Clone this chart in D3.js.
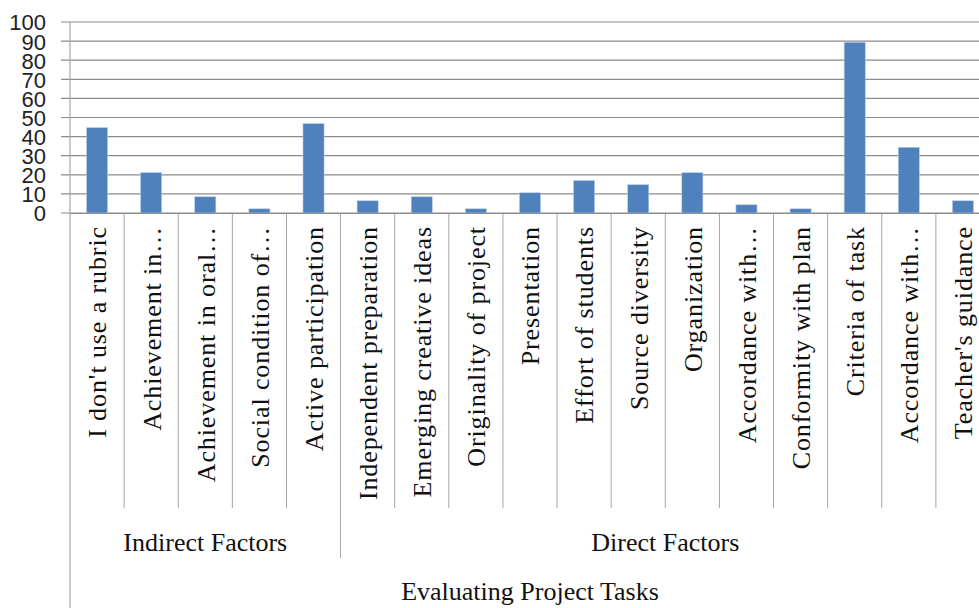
<!DOCTYPE html>
<html>
<head>
<meta charset="utf-8">
<script src="https://cdn.jsdelivr.net/npm/d3@7"></script>
<style>
  body { margin: 0; background: #fff; }
  svg { display: block; }
</style>
</head>
<body>
<svg id="svg"></svg>
<script>
// categories, values and groups
var categories = ["I don't use a rubric", "Achievement in…", "Achievement in oral…", "Social condition of…",
    "Active participation", "Independent preparation", "Emerging creative ideas", "Originality of project",
    "Presentation", "Effort of students", "Source diversity", "Organization", "Accordance with…",
    "Conformity with plan", "Criteria of task", "Accordance with…", "Teacher's guidance"];
var values = [44.7, 21.1, 8.5, 2.2, 46.8, 6.4, 8.5, 2.2, 10.6, 17, 14.8, 21.1, 4.3, 2.2, 89.4, 34.4, 6.4];
var groups = [{name: "Indirect Factors", from: 0, to: 5}, {name: "Direct Factors", from: 5, to: 17}];
var yTicks = [0, 10, 20, 30, 40, 50, 60, 70, 80, 90, 100];
var axisTitle = "Evaluating Project Tasks";

var svgWidth = 979, svgHeight = 608;
var margin = { top: 22, left: 70 },
    width = 920, height = 191;

var svg = d3.select('#svg').attr("width", svgWidth).attr("height", svgHeight);
var g = svg.append("g").attr("transform", "translate(" + margin.left + "," + margin.top + ")");

// the x axis keeps running past the right edge of the picture
var x = d3.scaleBand().domain(d3.range(categories.length)).range([0, width])
    .paddingInner(0.61).paddingOuter(0.305);
var y = d3.scaleLinear().domain([0, 100]).range([height, 0]);

var gridColor = "#8c8c8c";
var sepColor = "#a6a6a6";

// gridlines
g.append("g").selectAll("line").data(yTicks).enter().append("line")
    .attr("x1", -9).attr("x2", width)
    .attr("y1", d => y(d)).attr("y2", d => y(d))
    .attr("stroke", gridColor).attr("stroke-width", 1.2);

// y axis labels
var yAxis = g.append("g").call(d3.axisLeft(y).tickValues(yTicks).tickSize(0).tickPadding(24));
yAxis.select(".domain").remove();
yAxis.selectAll("text").attr("font-family", "'Liberation Sans', Arial, sans-serif")
    .attr("font-size", 22).attr("fill", "#222").attr("dy", "0.36em");

// bars
g.selectAll(".bar").data(values).enter().append("rect")
    .attr("class", "bar")
    .attr("x", (d, i) => x(i))
    .attr("width", x.bandwidth())
    .attr("y", d => y(d))
    .attr("height", d => height - y(d))
    .attr("fill", "#4f81bd")
    .attr("stroke", "#b9cde5").attr("stroke-width", 0.6);

// category separators
var step = x.step();
g.append("g").selectAll("line").data(d3.range(1, categories.length)).enter().append("line")
    .attr("x1", i => i * step).attr("x2", i => i * step)
    .attr("y1", height).attr("y2", d => {
        var isGroupEdge = groups.some(gr => gr.from == d);
        return isGroupEdge ? height + 345 : height + 295;
    })
    .attr("stroke", sepColor).attr("stroke-width", 1);

// left axis line
g.append("line").attr("x1", 0).attr("x2", 0).attr("y1", 0).attr("y2", svgHeight)
    .attr("stroke", sepColor).attr("stroke-width", 1.2);

// category labels
var xAxis = g.append("g").attr("transform", "translate(0," + height + ")")
    .call(d3.axisBottom(x).tickSize(0).tickFormat(i => categories[i]));
xAxis.select(".domain").attr("stroke", gridColor).attr("stroke-width", 1.2);
xAxis.selectAll("text")
    .attr("font-family", "'Liberation Serif', 'Times New Roman', serif")
    .attr("font-size", 26).attr("letter-spacing", "0.9px").attr("fill", "#111")
    .attr("transform", "rotate(-90)")
    .attr("text-anchor", "end")
    .attr("x", -13).attr("y", 0).attr("dy", "0.36em");

// group labels
g.selectAll(".group").data(groups).enter().append("text")
    .attr("x", d => (d.from + d.to) / 2 * step)
    .attr("y", height + 338)
    .attr("text-anchor", "middle")
    .attr("font-family", "'Liberation Serif', 'Times New Roman', serif")
    .attr("font-size", 26).attr("fill", "#111")
    .text(d => d.name);

// axis title
g.append("text")
    .attr("x", width / 2)
    .attr("y", height + 387)
    .attr("text-anchor", "middle")
    .attr("font-family", "'Liberation Serif', 'Times New Roman', serif")
    .attr("font-size", 26).attr("fill", "#111")
    .text(axisTitle);
</script>
</body>
</html>
